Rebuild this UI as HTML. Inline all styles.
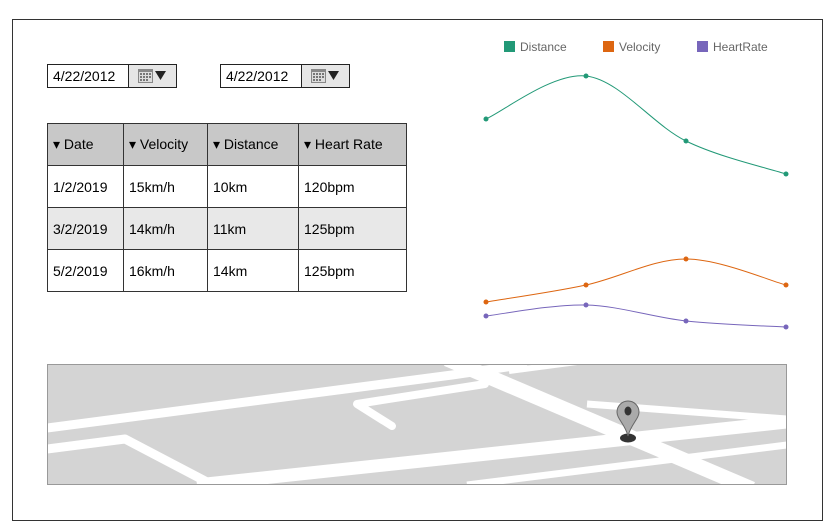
<!DOCTYPE html>
<html><head><meta charset="utf-8"><style>
body{margin:0;width:834px;height:531px;background:#fff;font-family:"Liberation Sans",sans-serif;position:relative;overflow:hidden}
.frame{position:absolute;left:12px;top:19px;width:809px;height:500px;border:1px solid #333}
.date{position:absolute;top:64px;height:22px;border:1px solid #222;font-size:14px}
.date .t{position:absolute;left:0;top:0;width:75px;height:22px;line-height:22px;padding-left:5px;border-right:1px solid #222;background:#fff}
.date .b{position:absolute;left:81px;top:0;width:47px;height:22px;background:#e6e6e6}
table{position:absolute;left:47px;top:123px;border-collapse:collapse;font-size:14px}
td{border:1px solid #333;height:41px;padding:0 0 0 5px;color:#000}
tr.h td{background:#c8c8c8}
tr.g td{background:#e8e8e8}
</style></head><body>
<div class="frame"></div>
<div class="date" style="left:47px;width:128px"><div class="t">4/22/2012</div><div class="b"><svg width="47" height="22"><rect x="9" y="4" width="15" height="14" fill="#888"/><rect x="10" y="7" width="13" height="10" fill="#ddd"/><g fill="#777"><rect x="11" y="8" width="2" height="2"/><rect x="14" y="8" width="2" height="2"/><rect x="17" y="8" width="2" height="2"/><rect x="20" y="8" width="2" height="2"/><rect x="11" y="11" width="2" height="2"/><rect x="14" y="11" width="2" height="2"/><rect x="17" y="11" width="2" height="2"/><rect x="20" y="11" width="2" height="2"/><rect x="11" y="14" width="2" height="2"/><rect x="14" y="14" width="2" height="2"/><rect x="17" y="14" width="2" height="2"/></g><path d="M26 6h11l-5.5 9z" fill="#222"/></svg></div></div>
<div class="date" style="left:220px;width:128px"><div class="t">4/22/2012</div><div class="b"><svg width="47" height="22"><rect x="9" y="4" width="15" height="14" fill="#888"/><rect x="10" y="7" width="13" height="10" fill="#ddd"/><g fill="#777"><rect x="11" y="8" width="2" height="2"/><rect x="14" y="8" width="2" height="2"/><rect x="17" y="8" width="2" height="2"/><rect x="20" y="8" width="2" height="2"/><rect x="11" y="11" width="2" height="2"/><rect x="14" y="11" width="2" height="2"/><rect x="17" y="11" width="2" height="2"/><rect x="20" y="11" width="2" height="2"/><rect x="11" y="14" width="2" height="2"/><rect x="14" y="14" width="2" height="2"/><rect x="17" y="14" width="2" height="2"/></g><path d="M26 6h11l-5.5 9z" fill="#222"/></svg></div></div>
<table>
<tr class="h"><td style="width:70px">▾ Date</td><td style="width:78px">▾ Velocity</td><td style="width:85px">▾ Distance</td><td style="width:102px">▾ Heart Rate</td></tr>
<tr><td>1/2/2019</td><td>15km/h</td><td>10km</td><td>120bpm</td></tr>
<tr class="g"><td>3/2/2019</td><td>14km/h</td><td>11km</td><td>125bpm</td></tr>
<tr><td>5/2/2019</td><td>16km/h</td><td>14km</td><td>125bpm</td></tr>
</table>
<svg id="chart" style="position:absolute;left:0;top:0" width="834" height="531"></svg>
<svg style="position:absolute;left:47px;top:364px" width="740" height="121">
<rect x="0" y="0" width="740" height="121" fill="#d4d4d4"/>
<g stroke="#fff" fill="none" stroke-linejoin="round">
<path d="M0 64L405 11L480 0" stroke-width="9"/>
<path d="M0 85L78 75L160 118" stroke-width="9"/>
<path d="M150 121L740 58" stroke-width="13"/>
<path d="M400 -5L705 125" stroke-width="15"/>
<path d="M540 40L740 55" stroke-width="7"/>
<path d="M438 20L310 40L345 62" stroke-width="8" stroke-linecap="round"/>
<path d="M420 121L740 81" stroke-width="7"/>
<path d="M462 7L530 -2" stroke-width="6"/>
</g>
<rect x="0.5" y="0.5" width="739" height="120" fill="none" stroke="#999"/>
<ellipse cx="581" cy="74" rx="8" ry="4.5" fill="#333"/>
<path d="M581 72C578 60 570 55 570 48A11 11 0 0 1 592 48C592 55 584 60 581 72Z" fill="#aaa" stroke="#666"/>
<ellipse cx="581" cy="47" rx="3.5" ry="4.5" fill="#333"/>
</svg>
<script>
const xs=[0,1,2,3];
const distance=[230,273,208,175];
const velocity=[47,64,90,64];
const heartRate=[33,44,28,22];
const seriesNames=["Distance","Velocity","HeartRate"];
const colors=["#229977","#dd6611","#7766bb"];
const svg=document.getElementById('chart');
const NS='http://www.w3.org/2000/svg';
const xScale=i=>486+i*100;
const yScale=v=>349-v;
function path(pts){let d=`M${pts[0][0]} ${pts[0][1]}`;for(let i=0;i<pts.length-1;i++){const p0=pts[i-1]||pts[i],p1=pts[i],p2=pts[i+1],p3=pts[i+2]||p2;d+=`C${p1[0]+(p2[0]-p0[0])/6} ${p1[1]+(p2[1]-p0[1])/6} ${p2[0]-(p3[0]-p1[0])/6} ${p2[1]-(p3[1]-p1[1])/6} ${p2[0]} ${p2[1]}`;}return d;}
[distance,velocity,heartRate].forEach((s,k)=>{
const pts=s.map((v,i)=>[xScale(xs[i]),yScale(v)]);
const p=document.createElementNS(NS,'path');
p.setAttribute('d',path(pts));p.setAttribute('fill','none');p.setAttribute('stroke',colors[k]);p.setAttribute('stroke-width','1');


svg.appendChild(p);
pts.forEach(q=>{const c=document.createElementNS(NS,'circle');c.setAttribute('cx',q[0]);c.setAttribute('cy',q[1]);c.setAttribute('r','2.5');c.setAttribute('fill',colors[k]);


svg.appendChild(c);});
const lx=[504,603,697][k];
const r=document.createElementNS(NS,'rect');r.setAttribute('x',lx);r.setAttribute('y',41);r.setAttribute('width',11);r.setAttribute('height',11);r.setAttribute('fill',colors[k]);


svg.appendChild(r);
const t=document.createElementNS(NS,'text');t.setAttribute('x',lx+16);t.setAttribute('y',51);t.setAttribute('font-size','12');t.setAttribute('fill','#666');t.setAttribute('font-family','Liberation Sans, sans-serif');t.textContent=seriesNames[k];


svg.appendChild(t);
});
</script>
</body></html>
